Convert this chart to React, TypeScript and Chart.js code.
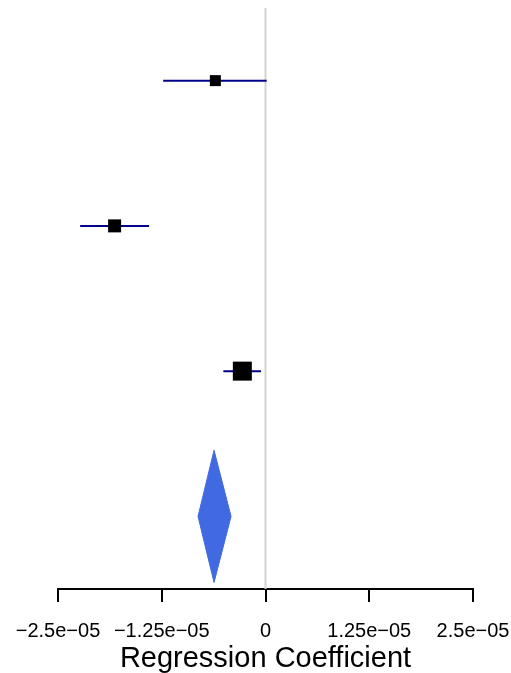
import React, { useEffect, useRef } from "react";
import { Chart, registerables } from "chart.js";

Chart.register(...registerables);

// Study rows (top to bottom) and their estimates / CIs
const studyRows = [4, 3, 2];
const estimates = [-6.04e-6, -1.818e-5, -2.79e-6];
const ciLower = [-1.233e-5, -2.233e-5, -5.08e-6];
const ciUpper = [1.4e-7, -1.403e-5, -5.4e-7];

// Summary (diamond)
const summaryRow = 1;
const summaryEstimate = -6.2e-6;
const summaryLower = -8.13e-6;
const summaryUpper = -4.15e-6;

// Axis
const tickValues = [-2.5e-5, -1.25e-5, 0, 1.25e-5, 2.5e-5];
const tickLabels = ["\u22122.5e\u221205", "\u22121.25e\u221205", "0", "1.25e\u221205", "2.5e\u221205"];
const xTitle = "Regression Coefficient";

// Styles
const squareSides = [11, 13, 19];
const diamondHalfHeight = 0.455;
const FONT = "'Liberation Sans', Arial, Helvetica, sans-serif";

export default function App() {
  const ref = useRef<HTMLCanvasElement | null>(null);

  useEffect(() => {
    if (!ref.current) return;
    const datasets: any[] = [];

    datasets.push({
      type: "scatter",
      data: estimates.map((x, i) => ({ x, y: studyRows[i] })),
      pointStyle: "rect",
      pointRadius: squareSides.map((s) => s / Math.SQRT2),
      backgroundColor: "#000000",
      borderColor: "#000000",
      borderWidth: 0,
      order: 0,
    });

    estimates.forEach((_, i) => {
      datasets.push({
        type: "line",
        data: [
          { x: ciLower[i], y: studyRows[i] },
          { x: ciUpper[i], y: studyRows[i] },
        ],
        borderColor: "#00008B",
        borderWidth: 2,
        pointRadius: 0,
        fill: false,
        order: 1,
      });
    });

    datasets.push({
      type: "line",
      data: [
        { x: summaryLower, y: summaryRow },
        { x: summaryEstimate, y: summaryRow + diamondHalfHeight },
        { x: summaryUpper, y: summaryRow },
        { x: summaryEstimate, y: summaryRow - diamondHalfHeight },
        { x: summaryLower, y: summaryRow },
      ],
      borderColor: "#4169E1",
      backgroundColor: "#4169E1",
      borderWidth: 1,
      pointRadius: 0,
      fill: "shape",
      tension: 0,
      order: 2,
    });

    datasets.push({
      type: "line",
      data: [
        { x: 0, y: 0.5 },
        { x: 0, y: 4.5 },
      ],
      borderColor: "#d3d3d3",
      borderWidth: 2,
      pointRadius: 0,
      fill: false,
      order: 3,
    });

    const chart = new Chart(ref.current, {
      type: "scatter",
      data: { datasets },
      options: {
        animation: false,
        responsive: false,
        devicePixelRatio: 1,
        layout: { autoPadding: false, padding: { left: 58, right: 38, top: 8, bottom: 0 } },
        plugins: { legend: { display: false }, tooltip: { enabled: false } },
        scales: {
          x: {
            type: "linear",
            min: tickValues[0],
            max: tickValues[tickValues.length - 1],
            afterBuildTicks: (scale: any) => {
              scale.ticks = tickValues.map((v) => ({ value: v }));
            },
            afterFit: (scale: any) => {
              scale.height = 84;
              scale.paddingLeft = 0;
              scale.paddingRight = 0;
            },
            ticks: {
              autoSkip: false,
              maxRotation: 0,
              minRotation: 0,
              padding: 17,
              color: "#000000",
              font: { family: FONT, size: 20 },
              callback: (_v: any, i: number) => tickLabels[i],
            },
            grid: {
              drawOnChartArea: false,
              drawTicks: true,
              tickLength: 13,
              color: "#000000",
              lineWidth: 2,
            },
            border: { display: true, color: "#000000", width: 2 },
            title: {
              display: true,
              text: xTitle,
              color: "#000000",
              font: { family: FONT, size: 29, lineHeight: 1 },
              padding: { top: 0, bottom: 0 },
            },
          },
          y: {
            type: "linear",
            display: false,
            min: 0.5,
            max: 4.5,
          },
        },
      },
    });
    return () => chart.destroy();
  }, []);

  return (
    <div style={{ position: "absolute", left: 0, top: 0, width: 511, height: 673, background: "#ffffff" }}>
      <canvas ref={ref} width={511} height={673} style={{ display: "block" }} />
    </div>
  );
}
